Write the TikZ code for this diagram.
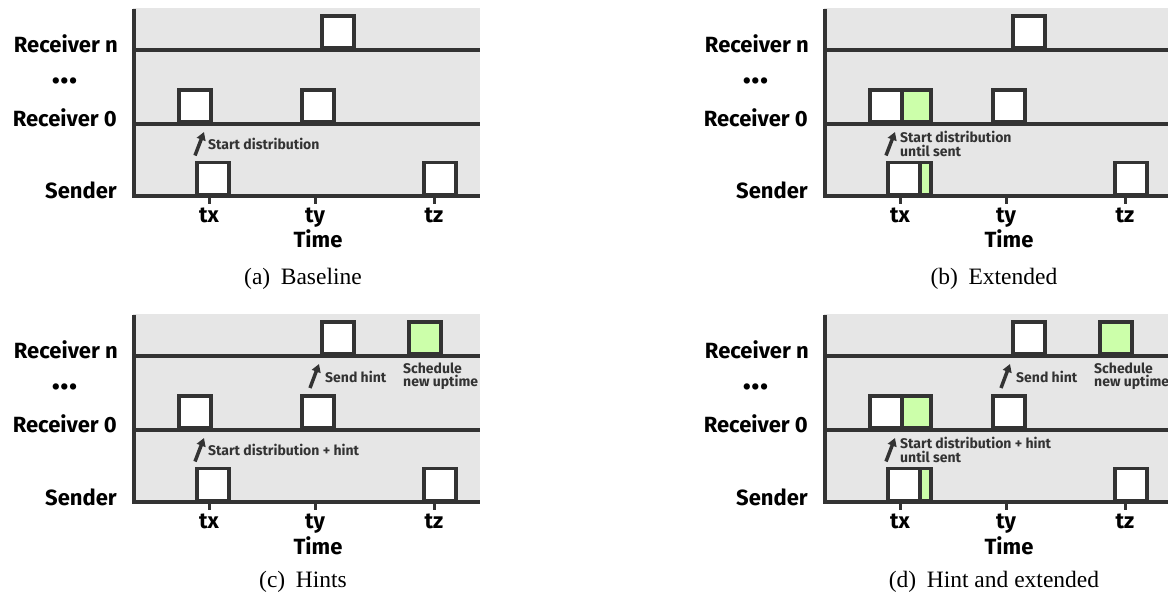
\documentclass[tikz,border=0pt]{standalone}
\usepackage{fontspec}
\setmainfont{Liberation Serif}
\newfontfamily\labfont{Fira Sans}
\usetikzlibrary{arrows.meta}
\definecolor{linec}{HTML}{333333}
\definecolor{bgc}{HTML}{E6E6E6}
\definecolor{grn}{HTML}{CCFFAA}
\tikzset{
  axis/.style={draw=linec, line width=4pt},
  tickmark/.style={draw=linec, line width=3pt},
  wbox/.style={draw=linec, line width=3.5pt, fill=white, minimum width=32pt, minimum height=32pt, inner sep=0pt, anchor=south west},
  gbox/.style={wbox, fill=grn},
  rowlab/.style={font=\labfont\bfseries\fontsize{22}{22}\selectfont, anchor=base east, inner sep=0pt},
  ticklab/.style={font=\labfont\bfseries\fontsize{22}{22}\selectfont, anchor=base, inner sep=0pt},
  note/.style={font=\labfont\bfseries\fontsize{14}{14}\selectfont, text=linec, anchor=base west, inner sep=0pt},
  evarrow/.style={draw=linec, line width=3.5pt, -{Triangle[length=8pt,width=9pt]}},
  capt/.style={font=\fontsize{23.5}{23.5}\selectfont, anchor=base, inner sep=0pt},
}
\newcommand\drawpanel[7]{%
\begin{scope}[shift={(#2,#3)}, name prefix=#1-]
  \fill[bgc] (133,8) rectangle (480,197);
  \coordinate (ytop) at (134,9);
  \coordinate (orig) at (134,198.5);
  \coordinate (nL) at (132,50);  \coordinate (nR) at (480,50);
  \coordinate (zL) at (132,124); \coordinate (zR) at (480,124);
  \coordinate (sL) at (132,196.5); \coordinate (sR) at (480,196.5);
  \draw[axis] (ytop) -- (orig);
  \draw[axis] (nL) -- (nR);
  \draw[axis] (zL) -- (zR);
  \draw[axis] (sL) -- (sR);
  % ticks
  \coordinate (tx) at (209,196.5); \coordinate (txb) at (209,204);
  \coordinate (ty) at (315,196.5); \coordinate (tyb) at (315,204);
  \coordinate (tz) at (434,196.5); \coordinate (tzb) at (434,204);
  \draw[tickmark] (tx) -- (txb);
  \draw[tickmark] (ty) -- (tyb);
  \draw[tickmark] (tz) -- (tzb);
  % boxes
  \node[wbox] (bn1) at (320,50) {};
  \node[wbox] (bz1) at (177,124) {};
  \node[wbox] (bz2) at (300,124) {};
  \node[wbox] (bs1) at (195,196.5) {};
  \node[wbox] (bs2) at (422,196.5) {};
  \ifnum#4=1
    \node[gbox, minimum width=29pt] (gz) at (209,124) {};
    \node[gbox, minimum width=11pt] (gs) at (227,196.5) {};
  \fi
  \ifnum#5=1
    \node[gbox] (gn) at (407,50) {};
    \coordinate (ha) at (310,82); \coordinate (hb) at (319,58);
    \draw[evarrow] (ha) -- (hb);
    \node[note] (sendhint) at (325,76.3) {Send hint};
    \node[note] (sched1) at (403,67.3) {Schedule};
    \node[note] (sched2) at (403,80.7) {new uptime};
  \fi
  % start arrow
  \coordinate (sa) at (195,155.5); \coordinate (sb) at (204,132);
  \draw[evarrow] (sa) -- (sb);
  \ifnum#4=1
    \node[note] (start) at (209,142.5) {Start distribution\ifnum#5=1{} + hint\fi};
    \node[note] (until) at (209,156.5) {until sent};
  \else
    \node[note] (start) at (208,149.5) {Start distribution\ifnum#5=1{} + hint\fi};
  \fi
  % labels
  \node[rowlab] (lrn) at (118,53) {Receiver n};
  \node[font=\labfont\fontsize{28}{28}\selectfont, anchor=base, inner sep=0pt] (ldots) at (64.5,91) {•\kern-0.5pt•\kern-0.5pt•};
  \node[rowlab] (lr0) at (117,127) {Receiver 0};
  \node[rowlab] (ls) at (117,199) {Sender};
  \node[ticklab] (ltx) at (209,223) {tx};
  \node[ticklab] (lty) at (315,223) {ty};
  \node[ticklab] (ltz) at (434,223) {tz};
  \node[ticklab] (ltime) at (318,248) {Time};
  \node[capt] (cap) at (303,#7) {#6};
\end{scope}}
\begin{document}
\begin{tikzpicture}[x=1pt,y=-1pt]
\useasboundingbox (0,0) rectangle (1168,593);
\drawpanel{a}{0}{0}{0}{0}{(a)\hspace{0.45em}Baseline}{284.5}
\drawpanel{b}{691}{0}{1}{0}{(b)\hspace{0.45em}Extended}{284.5}
\drawpanel{c}{0}{306}{0}{1}{(c)\hspace{0.45em}Hints}{281}
\drawpanel{d}{691}{306}{1}{1}{(d)\hspace{0.45em}Hint and extended}{281}
\end{tikzpicture}
\end{document}
